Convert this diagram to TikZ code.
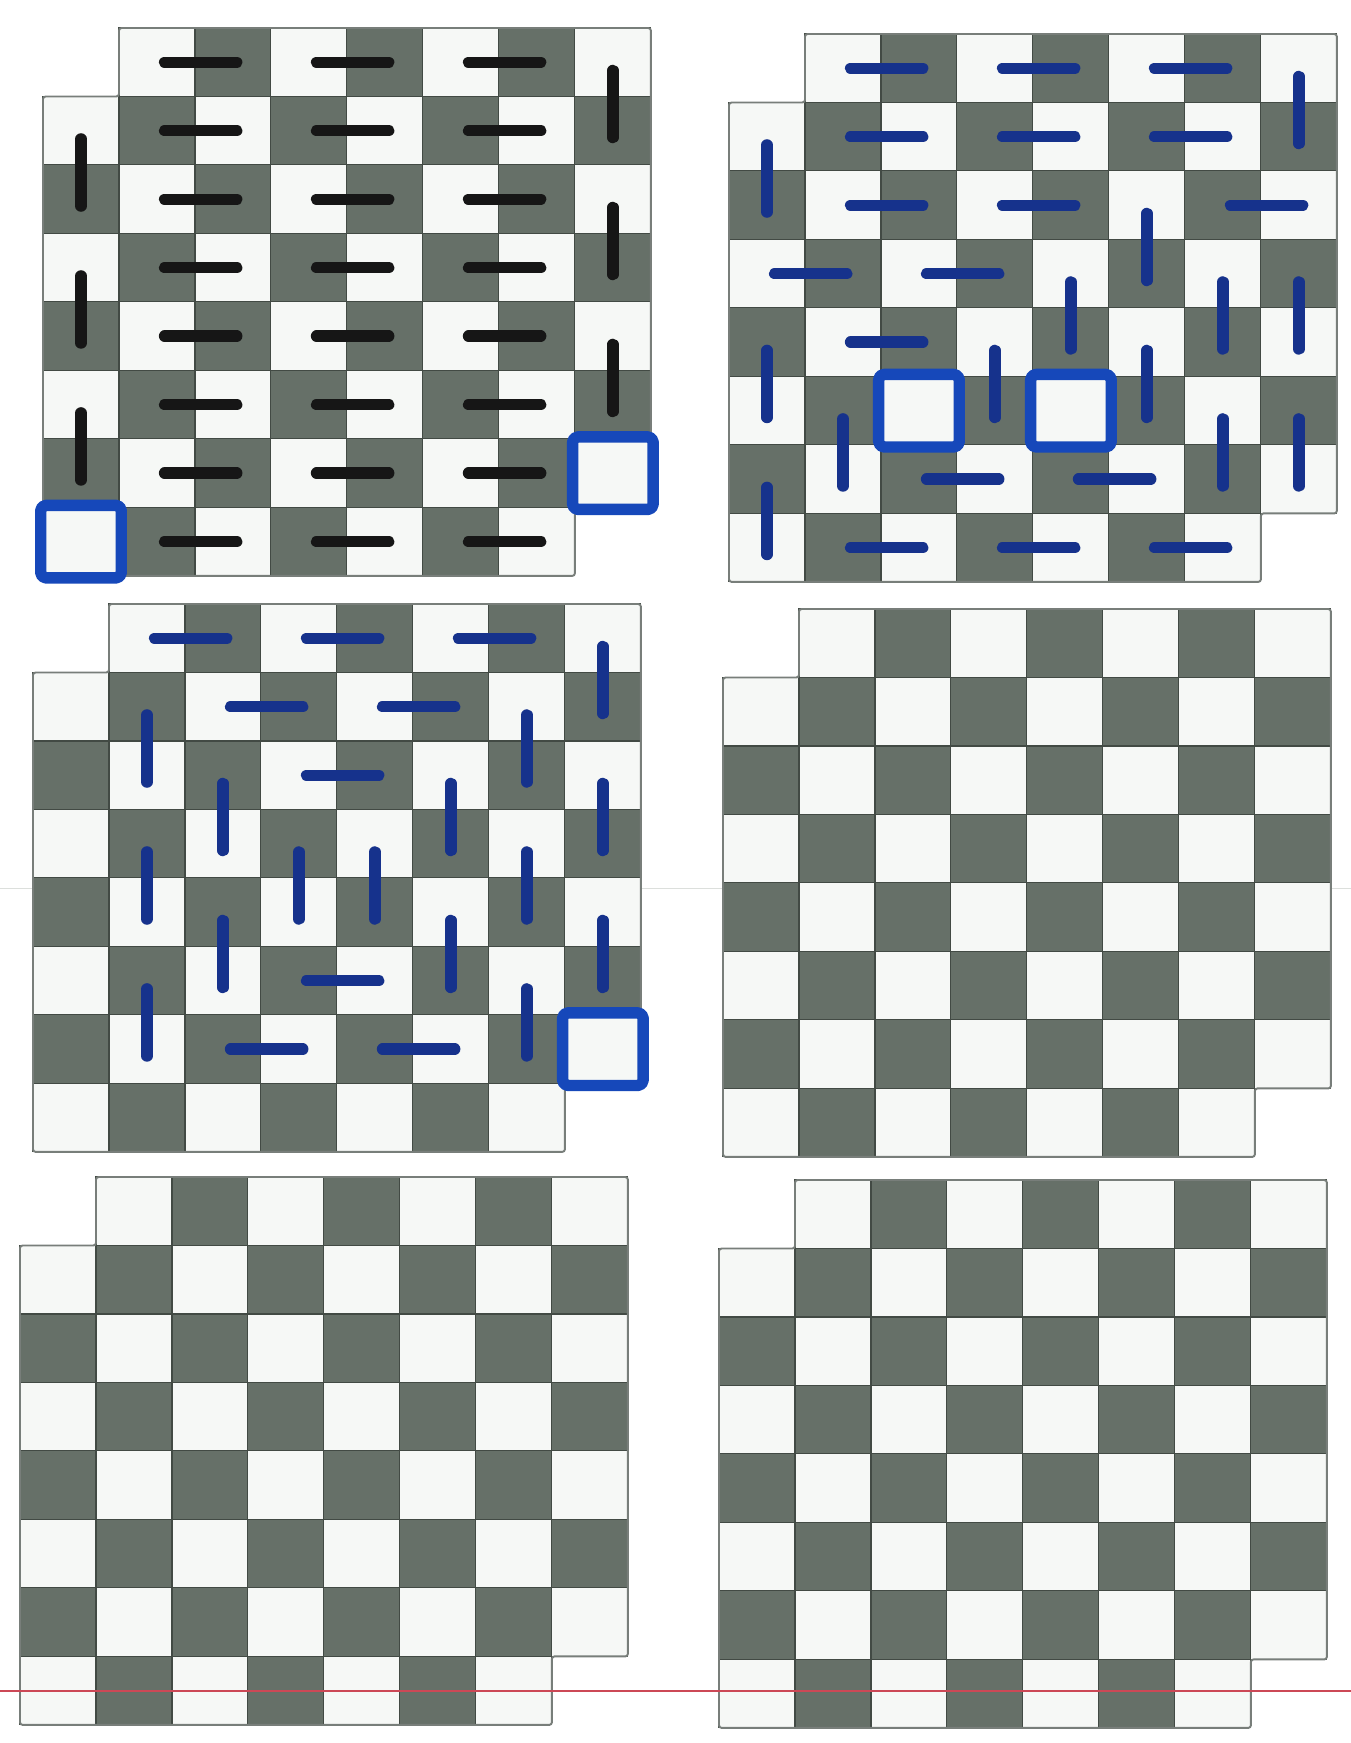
\documentclass[tikz,border=0pt]{standalone}

\definecolor{cellgrey}{RGB}{102,112,104}
\definecolor{gridgrey}{RGB}{66,74,68}
\definecolor{rimgrey}{RGB}{120,126,122}
\definecolor{paper}{RGB}{246,248,246}
\definecolor{inkblack}{RGB}{22,22,22}
\definecolor{inkblue}{RGB}{22,50,140}
\definecolor{boxblue}{RGB}{22,72,186}
\definecolor{ruleRed}{RGB}{204,72,86}
\definecolor{ruleGrey}{RGB}{220,223,220}

\tikzset{
  onboard/.style 2 args={shift={(#1,#2)},x=1.52cm,y=-1.37cm},
  cell/.style={draw=gridgrey,line width=0.6pt,fill=paper},
  darkcell/.style={cell,fill=cellgrey},
  rim/.style={draw=rimgrey,line width=1.1pt,rounded corners=1.5pt},
  domino/.style={line width=6.5pt,line cap=round},
  holebox/.style={draw=boxblue,line width=6.5pt,rounded corners=3pt,line join=round},
}

% 8x8 board without the top left and bottom right squares
\newcommand{\mutboard}{%
  \foreach \r in {0,...,7}{%
    \foreach \c in {0,...,7}{%
      \pgfmathtruncatemacro{\s}{\r+\c}%
      \ifnum\s=0 \else\ifnum\s=14 \else
        \ifodd\s \draw[cell] (\c,\r) rectangle ++(1,1);
        \else \draw[darkcell] (\c,\r) rectangle ++(1,1);
        \fi
      \fi\fi
    }%
  }%
  \draw[rim] (1,0) -- (8,0) -- (8,7) -- (7,7) -- (7,8) -- (0,8) -- (0,1) -- (1,1) -- cycle;
}
% pen marks: row, column of the upper / left square
\newcommand{\hdom}[2]{\draw[domino] (#2+.6,#1+.5) -- (#2+1.55,#1+.5);}
\newcommand{\vdom}[2]{\draw[domino] (#2+.5,#1+.62) -- (#2+.5,#1+1.6);}
\newcommand{\markhole}[2]{\draw[holebox] (#2-.03,#1-.03) rectangle (#2+1.03,#1+1.03);}

\begin{document}
\begin{tikzpicture}[x=0.02cm,y=-0.02cm]
\useasboundingbox (0,0) rectangle (1351,1743);
\fill[white] (0,0) rectangle (1351,1743);
\draw[ruleGrey,line width=0.5pt] (0,888) -- (1351,888);

% ---- top left: full tiling in black ----
\begin{scope}[onboard={43}{28},inkblack]
  \mutboard
  \foreach \r in {0,...,7}
    \foreach \c in {1,3,5} {\hdom{\r}{\c}}
  \foreach \r in {0,2,4} {\vdom{\r}{7}}
  \foreach \r in {1,3,5} {\vdom{\r}{0}}
  \markhole{6}{7}
  \markhole{7}{0}
\end{scope}

% ---- top right: full tiling in blue ----
\begin{scope}[onboard={729}{34},inkblue]
  \mutboard
  \foreach \r/\c in {0/1,0/3,0/5,1/1,1/3,1/5,2/1,2/3,2/6,3/0,3/2,4/1,
                     6/2,6/4,7/1,7/3,7/5} {\hdom{\r}{\c}}
  \foreach \r/\c in {0/7,1/0,2/5,3/4,3/6,3/7,4/0,4/3,4/5,5/1,5/6,5/7,6/0}
    {\vdom{\r}{\c}}
  \markhole{5}{2}
  \markhole{5}{4}
\end{scope}

% ---- middle left: partial tiling in blue ----
\begin{scope}[onboard={33}{604},inkblue]
  \mutboard
  \foreach \r/\c in {0/1,0/3,0/5,1/2,1/4,2/3,5/3,6/2,6/4} {\hdom{\r}{\c}}
  \foreach \r/\c in {0/7,1/1,1/6,2/2,2/5,2/7,3/1,3/3,3/4,3/6,4/2,4/5,4/7,
                     5/1,5/6} {\vdom{\r}{\c}}
  \markhole{6}{7}
\end{scope}

% ---- empty boards ----
\begin{scope}[onboard={723}{609}]
  \mutboard
\end{scope}
\begin{scope}[onboard={20}{1177}]
  \mutboard
\end{scope}
\begin{scope}[onboard={719}{1180}]
  \mutboard
\end{scope}

\draw[ruleRed,line width=1pt] (0,1691) -- (1351,1691);
\end{tikzpicture}
\end{document}
